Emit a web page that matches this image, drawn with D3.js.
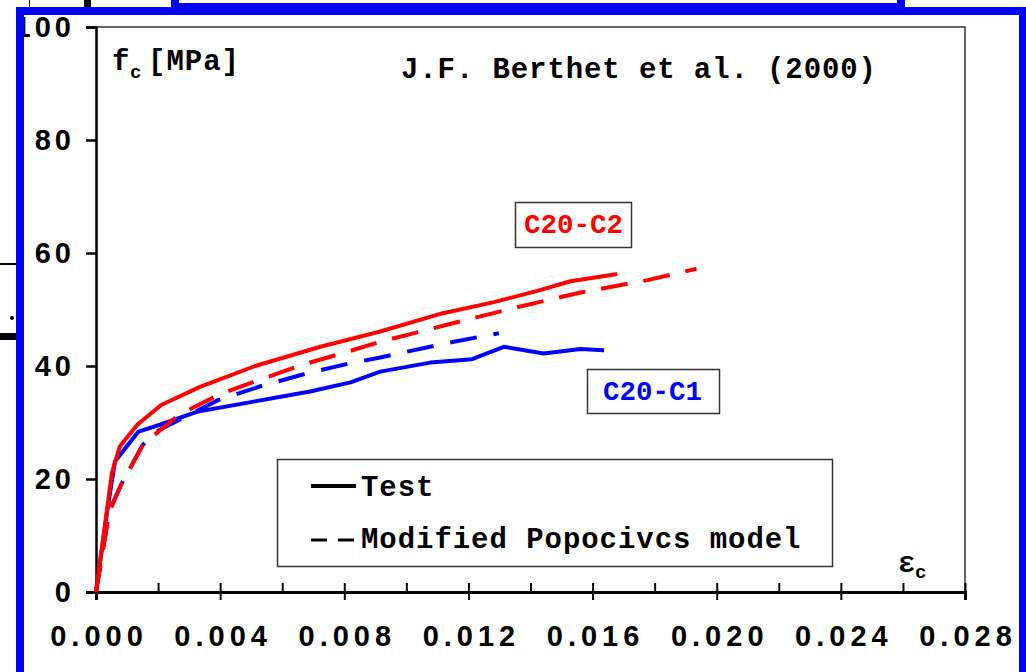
<!DOCTYPE html>
<html>
<head>
<meta charset="utf-8">
<script src="https://cdn.jsdelivr.net/npm/d3@7"></script>
<style>
  body { margin: 0; background: #fff; }
  svg { display: block; font-family: "Courier New", "Liberation Mono", monospace; font-weight: bold; }
</style>
</head>
<body>
<svg id="chart" width="1026" height="672"></svg>
<script>
// strain [-] / stress [MPa]
const testC2X = [0, 0.00051, 0.00077, 0.00133, 0.0021, 0.00335, 0.00513, 0.00723, 0.00916, 0.01115, 0.01282, 0.01422, 0.01529, 0.0168];
const testC2Y = [0, 21.0, 25.8, 29.6, 33.1, 36.3, 40.0, 43.4, 46.1, 49.3, 51.3, 53.3, 55.0, 56.3];

const testC1X = [0, 0.00035, 0.00061, 0.00137, 0.00206, 0.00325, 0.00508, 0.0069, 0.0082, 0.00916, 0.01077, 0.01212, 0.01314, 0.01443, 0.01561, 0.01637];
const testC1Y = [0, 13.9, 23.1, 28.4, 29.6, 31.9, 33.7, 35.5, 37.1, 39.0, 40.6, 41.2, 43.4, 42.2, 43.0, 42.8];

const modelC2X = [0, 0.00043, 0.0008, 0.00153, 0.00266, 0.00395, 0.00529, 0.00664, 0.00809, 0.00916, 0.01131, 0.01357, 0.01561, 0.01777, 0.01935];
const modelC2Y = [0, 14.2, 18.9, 26.2, 31.3, 34.9, 37.6, 40.2, 42.5, 44.3, 47.3, 50.4, 53.0, 55.2, 57.2];

const modelC1X = [0, 0.00042, 0.0008, 0.0015, 0.00194, 0.0032, 0.00395, 0.00535, 0.0068, 0.0082, 0.00916, 0.011, 0.01239, 0.01298];
const modelC1Y = [0, 14.2, 18.9, 26.0, 28.4, 31.9, 34.0, 36.5, 38.7, 40.5, 41.5, 43.7, 45.2, 45.8];

const yTicks = [0, 20, 40, 60, 80, 100];
const xTicks = [0, 0.004, 0.008, 0.012, 0.016, 0.02, 0.024, 0.028];
const xMinorTicks = d3.range(0, 0.0281, 0.002);

const legendLabels = ['Test', 'Modified Popocivcs model'];

const svg = d3.select('#chart');
const fs = 29;

const x = d3.scaleLinear().domain([0, 0.028]).range([96, 965]);
const y = d3.scaleLinear().domain([0, 100]).range([592, 27]);

const zip = (xs, ys) => xs.map((v, i) => [v, ys[i]]);
const line = d3.line().x((d) => x(d[0])).y((d) => y(d[1]));

// frame (top and right)
svg.append('path')
  .attr('d', `M${x(0)},${y(100)}H${x(0.028)}V${y(0)}`)
  .attr('fill', 'none')
  .attr('stroke', '#333')
  .attr('stroke-width', 1.5);

// y axis
svg.append('g')
  .attr('transform', `translate(${x(0)},0)`)
  .call(d3.axisLeft(y).tickValues(yTicks).tickSize(10).tickPadding(11).tickFormat(d3.format('d')))
  .call((g) => {
    g.select('.domain').attr('stroke-width', 2.5);
    g.selectAll('.tick line').attr('stroke-width', 2.5);
    g.selectAll('text').attr('font-size', fs).attr('font-family', null).attr('fill', '#000')
      .attr('letter-spacing', 4);
  });

// x axis: minor ticks above, majors crossing
svg.append('g')
  .attr('transform', `translate(0,${y(0)})`)
  .call(d3.axisTop(x).tickValues(xMinorTicks).tickSize(9).tickFormat(''))
  .call((g) => {
    g.select('.domain').remove();
    g.selectAll('.tick line').attr('stroke-width', 2);
  });

svg.append('g')
  .attr('transform', `translate(0,${y(0)})`)
  .call(d3.axisBottom(x).tickValues(xTicks).tickSize(8).tickPadding(25).tickFormat(d3.format('.3f')))
  .call((g) => {
    g.select('.domain').attr('stroke-width', 3);
    g.selectAll('.tick line').attr('stroke-width', 2);
    g.selectAll('text').attr('font-size', fs).attr('font-family', null).attr('fill', '#000')
      .attr('letter-spacing', 5).attr('dx', 2.5);
  });

// curves
const series = [
  { pts: zip(testC1X, testC1Y), color: '#0000ff', dash: null },
  { pts: zip(modelC1X, modelC1Y), color: '#0000ff', dash: '27,17' },
  { pts: zip(modelC2X, modelC2Y), color: '#ff0000', dash: '27,16' },
  { pts: zip(testC2X, testC2Y), color: '#ff0000', dash: null },
];

svg.append('g').selectAll('path')
  .data(series)
  .join('path')
  .attr('d', (d) => line(d.pts))
  .attr('fill', 'none')
  .attr('stroke', (d) => d.color)
  .attr('stroke-width', 4)
  .attr('stroke-linejoin', 'round')
  .attr('stroke-dasharray', (d) => d.dash);

// axis titles
const yTitle = svg.append('g').attr('font-size', fs);
yTitle.append('text').attr('x', 112).attr('y', 70).text('f');
yTitle.append('text').attr('x', 130).attr('y', 78).attr('font-size', 19).text('c');
yTitle.append('text').attr('x', 148).attr('y', 70).attr('letter-spacing', 1).text('[MPa]');

const xTitle = svg.append('g').attr('font-size', fs);
xTitle.append('text').attr('x', 898).attr('y', 572).text('ε');
xTitle.append('text').attr('x', 915).attr('y', 578).attr('font-size', 19).text('c');

svg.append('text')
  .attr('x', 401).attr('y', 78)
  .attr('font-size', fs)
  .attr('letter-spacing', 0.9)
  .text('J.F. Berthet et al. (2000)');

// legend
const legend = svg.append('g');
legend.append('rect')
  .attr('x', 277.5).attr('y', 459.5).attr('width', 555).attr('height', 107)
  .attr('fill', '#fff').attr('stroke', '#333').attr('stroke-width', 1.5);

legend.selectAll('line')
  .data(legendLabels)
  .join('line')
  .attr('x1', 311).attr('x2', 356)
  .attr('y1', (d, i) => 486 + i * 54).attr('y2', (d, i) => 486 + i * 54)
  .attr('stroke', '#000')
  .attr('stroke-width', (d, i) => (i ? 3 : 4))
  .attr('stroke-dasharray', (d, i) => (i ? '16,11' : null));

legend.selectAll('text')
  .data(legendLabels)
  .join('text')
  .attr('x', 361)
  .attr('y', (d, i) => 496 + i * 52)
  .attr('font-size', fs)
  .attr('letter-spacing', 0.95)
  .text((d) => d);

// curve labels
const tags = [
  { text: 'C20-C2', color: '#ff0000', box: [515, 202, 116, 45], tx: 524, ty: 233 },
  { text: 'C20-C1', color: '#0000ff', box: [587, 369, 132, 44], tx: 603, ty: 400 },
];
const tag = svg.append('g').selectAll('g').data(tags).join('g');
tag.append('rect')
  .attr('x', (d) => d.box[0] + 0.5).attr('y', (d) => d.box[1] + 0.5)
  .attr('width', (d) => d.box[2]).attr('height', (d) => d.box[3])
  .attr('fill', '#fff').attr('stroke', '#333').attr('stroke-width', 1.5);
tag.append('text')
  .attr('x', (d) => d.tx).attr('y', (d) => d.ty)
  .attr('font-size', 27.5)
  .attr('fill', (d) => d.color)
  .text((d) => d.text);

// screenshot frame leftovers around the figure
const deco = svg.append('g');
deco.append('rect').attr('x', 171).attr('y', 0).attr('width', 734).attr('height', 15).attr('fill', '#0000ff');
deco.append('rect').attr('x', 179).attr('y', 0).attr('width', 718).attr('height', 3).attr('fill', '#fff');
deco.append('rect').attr('x', 16).attr('y', 7).attr('width', 1010).attr('height', 8).attr('fill', '#0000ff');
deco.append('rect').attr('x', 16).attr('y', 7).attr('width', 8).attr('height', 665).attr('fill', '#0000ff');
deco.append('rect').attr('x', 1019).attr('y', 7).attr('width', 7).attr('height', 665).attr('fill', '#0000ff');
deco.append('rect').attr('x', 29).attr('y', 0).attr('width', 1).attr('height', 7).attr('fill', '#000');
deco.append('rect').attr('x', 84).attr('y', 0).attr('width', 7).attr('height', 7).attr('fill', '#000');
deco.append('rect').attr('x', 0).attr('y', 263).attr('width', 16).attr('height', 2).attr('fill', '#000');
deco.append('circle').attr('cx', 12).attr('cy', 318).attr('r', 2).attr('fill', '#000');
deco.append('rect').attr('x', 0).attr('y', 333).attr('width', 16).attr('height', 7).attr('fill', '#000');
</script>
</body>
</html>
